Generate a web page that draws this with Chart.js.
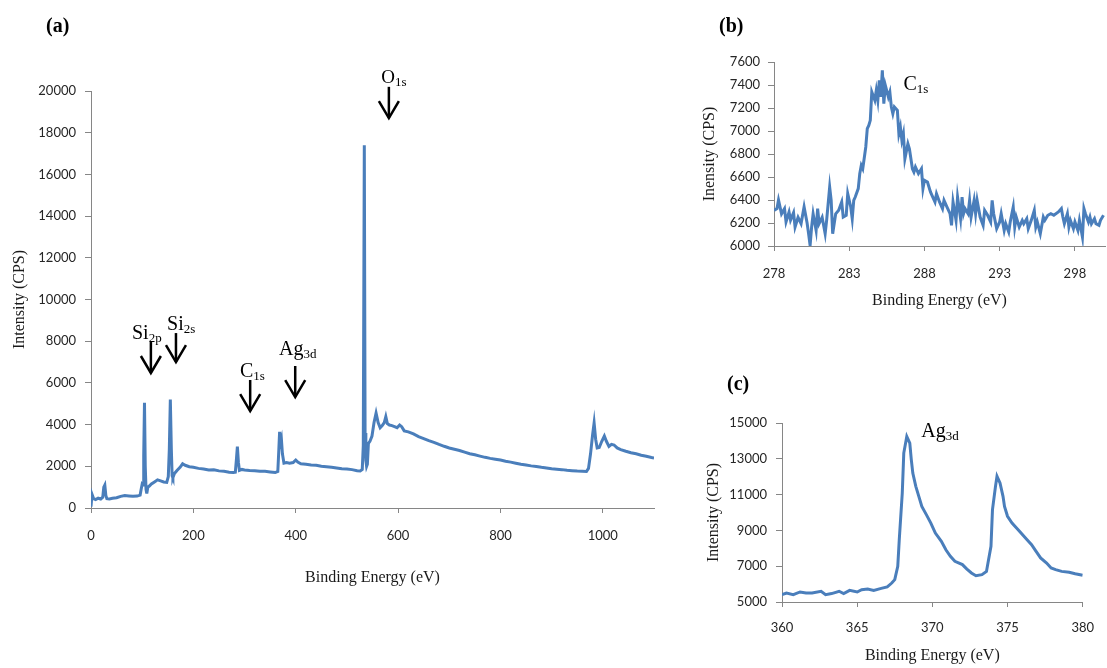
<!DOCTYPE html>
<html>
<head>
<meta charset="utf-8">
<script src="https://cdn.jsdelivr.net/npm/chart.js@4.4.0/dist/chart.umd.min.js"></script>
<style>
body { margin: 0; background: #fff; }
#wrap { position: relative; width: 1107px; height: 668px; overflow: hidden; }
canvas { position: absolute; }
.panel { position: absolute; font: bold 20px "Liberation Serif", serif; line-height: 20px; color: #000; }
</style>
</head>
<body>
<div id="wrap">
  <canvas id="chartA" width="680" height="600" style="left:0;top:0"></canvas>
  <canvas id="chartB" width="417" height="320" style="left:690px;top:0"></canvas>
  <canvas id="chartC" width="417" height="308" style="left:690px;top:360px"></canvas>
  <div class="panel" style="left:46px;top:15px">(a)</div>
  <div class="panel" style="left:719px;top:15px">(b)</div>
  <div class="panel" style="left:727px;top:373px">(c)</div>
</div>
<script>
// (a) survey spectrum
const surveyEnergy = [0, 2, 5, 9, 14, 19, 23, 25, 27, 29, 31, 36, 42, 50, 58, 66, 74, 82, 90, 96,
  98, 100, 102, 103, 104.5, 106, 107.5, 109, 111, 114, 118, 124, 130, 136, 142, 148, 151, 153, 155, 157,
  158.5, 160, 163, 168, 174, 179, 184, 192, 200, 210, 220, 230, 240, 250, 260, 270, 278, 282, 284, 286,
  288, 290, 295, 300, 310, 320, 330, 340, 350, 360, 365, 367, 368.5, 370, 372, 374, 377, 382, 388, 395,
  400, 404, 410, 420, 430, 440, 450, 460, 470, 480, 490, 500, 510, 520, 526, 530, 532, 534, 535.5, 537,
  538.5, 540, 542, 545, 549, 553, 557, 561, 565, 569, 573, 576, 579, 583, 588, 593, 598, 603, 607, 612,
  620, 630, 640, 650, 660, 670, 680, 690, 700, 710, 720, 730, 740, 750, 760, 770, 780, 790, 800, 810,
  820, 830, 840, 850, 860, 870, 880, 890, 900, 910, 920, 930, 940, 950, 960, 968, 972, 976, 980, 983,
  986, 989, 993, 998, 1003, 1007, 1012, 1017, 1022, 1028, 1035, 1045, 1055, 1065, 1075, 1085, 1095, 1100];
const surveyCounts = [60, 650, 450, 400, 470, 430, 520, 1000, 1100, 600, 450, 430, 470, 490, 560, 600, 580, 560, 570, 620,
  900, 1150, 1100, 2500, 5050, 2000, 900, 700, 1000, 1050, 1150, 1250, 1350, 1300, 1250, 1230, 1500, 2800, 5200, 2800,
  1550, 1450, 1650, 1800, 1950, 2120, 2050, 1980, 1950, 1900, 1870, 1820, 1830, 1780, 1760, 1720, 1700, 1720, 2300, 2950,
  2200, 1800, 1850, 1820, 1800, 1790, 1760, 1760, 1730, 1700, 1750, 2800, 3650, 3100, 3300, 2600, 2150, 2180, 2150, 2180,
  2300, 2200, 2120, 2100, 2060, 2050, 2000, 1980, 1950, 1920, 1880, 1870, 1840, 1790, 1780, 1850, 3000, 17400, 3600, 2300,
  2000, 2100, 3100, 3200, 3450, 4100, 4550, 4100, 3850, 3950, 4100, 4380, 4050, 3980, 3950, 3900, 3850, 3980, 3900, 3700,
  3650, 3550, 3420, 3330, 3230, 3150, 3050, 2960, 2880, 2820, 2760, 2680, 2600, 2550, 2490, 2430, 2380, 2340, 2300, 2240,
  2200, 2150, 2100, 2060, 2020, 1990, 1950, 1920, 1880, 1860, 1840, 1810, 1790, 1770, 1760, 1750, 1900, 2600, 3500, 4080,
  3300, 2880, 2900, 3200, 3450, 3200, 2950, 3050, 3020, 2880, 2800, 2720, 2650, 2600, 2530, 2480, 2420, 2400];
const surveyXTicks = [0, 200, 400, 600, 800, 1000];
const surveyYTicks = [0, 2000, 4000, 6000, 8000, 10000, 12000, 14000, 16000, 18000, 20000];

// (b) C1s region
const c1sEnergy = [278.0, 278.2, 278.3, 278.5, 278.7, 278.8, 279.0, 279.1, 279.3, 279.4, 279.6, 279.8, 280.0, 280.2, 280.3, 280.4,
  280.5, 280.6, 280.8, 280.9, 281.0, 281.2, 281.4, 281.5, 281.7, 281.8, 281.9, 282.1, 282.3, 282.5, 282.6, 282.8,
  282.9, 283.1, 283.2, 283.3, 283.4, 283.6, 283.7, 283.8, 283.9, 284.1, 284.2, 284.3, 284.4, 284.5, 284.7, 284.8,
  284.9, 285.0, 285.1, 285.2, 285.3, 285.4, 285.6, 285.7, 285.8, 285.9, 286.0, 286.2, 286.3, 286.4, 286.5, 286.6,
  286.7, 286.9, 287.0, 287.2, 287.3, 287.4, 287.6, 287.8, 287.9, 288.0, 288.2, 288.4, 288.5, 288.7, 288.8, 289.0,
  289.2, 289.3, 289.5, 289.7, 289.8, 289.9, 290.1, 290.2, 290.4, 290.5, 290.6, 290.7, 290.9, 291.0, 291.1, 291.3,
  291.4, 291.5, 291.7, 291.9, 292.0, 292.2, 292.4, 292.5, 292.6, 292.8, 293.0, 293.1, 293.3, 293.4, 293.6, 293.7,
  293.9, 294.0, 294.1, 294.3, 294.5, 294.6, 294.8, 294.9, 295.1, 295.3, 295.4, 295.5, 295.7, 295.9, 296.0, 296.2,
  296.4, 296.6, 296.9, 297.1, 297.2, 297.3, 297.5, 297.6, 297.7, 297.9, 298.0, 298.2, 298.3, 298.5, 298.6, 298.7,
  298.9, 299.0, 299.1, 299.3, 299.4, 299.6, 299.7, 299.9];
const c1sCounts = [6310, 6325, 6400, 6280, 6325, 6210, 6295, 6225, 6290, 6165, 6250, 6195, 6340, 6200, 6107, 6005,
  6165, 6280, 6135, 6325, 6195, 6250, 6107, 6225, 6513, 6397, 6107, 6280, 6310, 6383, 6252, 6267,
  6455, 6339, 6238, 6397, 6426, 6499, 6629, 6701, 6672, 6861, 7020, 7049, 7093, 7339, 7267, 7354,
  7267, 7441, 7296, 7528, 7238, 7397, 7296, 7339, 7209, 7151, 7209, 7180, 6977, 7035, 6919, 6977,
  6759, 6890, 6846, 6672, 6643, 6687, 6629, 6672, 6499, 6571, 6557, 6470, 6441, 6383, 6455, 6383,
  6325, 6397, 6339, 6281, 6180, 6383, 6223, 6426, 6238, 6426, 6281, 6325, 6281, 6397, 6252, 6397,
  6281, 6397, 6252, 6180, 6310, 6267, 6209, 6397, 6281, 6151, 6209, 6281, 6136, 6194, 6122, 6209,
  6339, 6165, 6252, 6165, 6223, 6194, 6238, 6151, 6223, 6310, 6165, 6209, 6107, 6252, 6223, 6267,
  6281, 6267, 6296, 6325, 6252, 6194, 6281, 6165, 6223, 6151, 6209, 6136, 6223, 6078, 6325, 6281,
  6209, 6252, 6194, 6238, 6194, 6180, 6223, 6267];
const c1sXTicks = [278, 283, 288, 293, 298];
const c1sYTicks = [6000, 6200, 6400, 6600, 6800, 7000, 7200, 7400, 7600];

// (c) Ag3d region
const agEnergy = [360.0, 360.3, 360.75, 361.2, 361.6, 362.0, 362.6, 362.9, 363.3, 363.8, 364.1, 364.5, 365.0, 365.3, 365.7, 366.1,
  366.6, 367.0, 367.3, 367.5, 367.7, 367.8, 368.0, 368.1, 368.3, 368.5, 368.6, 368.7, 368.9, 369.1, 369.3, 369.6,
  369.9, 370.2, 370.6, 370.9, 371.2, 371.5, 372.0, 372.3, 372.6, 372.9, 373.3, 373.6, 373.7, 373.9, 374.0, 374.2,
  374.3, 374.5, 374.7, 374.8, 375.0, 375.3, 375.6, 375.9, 376.3, 376.6, 376.9, 377.2, 377.6, 377.9, 378.2, 378.6,
  379.1, 379.5, 380.0];
const agCounts = [5410, 5500, 5410, 5560, 5500, 5500, 5600, 5410, 5470, 5600, 5470, 5650, 5560, 5690, 5730, 5650,
  5760, 5840, 6060, 6250, 6990, 8480, 11090, 13320, 14250, 13880, 12950, 12200, 11460, 10900, 10340, 9880,
  9410, 8850, 8390, 7920, 7550, 7270, 7090, 6840, 6620, 6470, 6530, 6710, 7180, 8110, 10160, 11460,
  12020, 11650, 10900, 10340, 9790, 9410, 9130, 8850, 8480, 8200, 7830, 7460, 7180, 6900, 6810, 6710,
  6660, 6580, 6490];
const agXTicks = [360, 365, 370, 375, 380];
const agYTicks = [5000, 7000, 9000, 11000, 13000, 15000];

const lineColor = '#4a7ebb';
const axisColor = '#868686';
const tickFont = { family: 'Lato', size: 13 };
const tickColor = '#262626';
const titleFont = { family: 'Liberation Serif', size: 16 };

// peak labels with subscripts and down arrows, placed in data units
const peakLabels = {
  id: 'peakLabels',
  afterDatasetsDraw(chart, args, opts) {
    const { ctx } = chart;
    const x = chart.scales.x, y = chart.scales.y;
    ctx.save();
    ctx.fillStyle = '#000';
    ctx.strokeStyle = '#000';
    ctx.textAlign = 'left';
    ctx.textBaseline = 'alphabetic';
    (opts.items || []).forEach(a => {
      const tx = x.getPixelForValue(a.textX);
      const ty = y.getPixelForValue(a.textY);
      ctx.font = a.size + 'px "Liberation Serif"';
      ctx.fillText(a.main, tx, ty);
      const w = ctx.measureText(a.main).width;
      ctx.font = a.subSize + 'px "Liberation Serif"';
      ctx.fillText(a.sub, tx + w, ty + 3);
      if (a.arrowX !== undefined) {
        const ax = x.getPixelForValue(a.arrowX);
        const y0 = y.getPixelForValue(a.arrowTop);
        const y1 = y.getPixelForValue(a.arrowBottom);
        ctx.lineWidth = 2.5;
        ctx.beginPath();
        ctx.moveTo(ax, y0);
        ctx.lineTo(ax, y1);
        ctx.stroke();
        ctx.beginPath();
        ctx.moveTo(ax - 10, y1 - 17);
        ctx.lineTo(ax, y1);
        ctx.lineTo(ax + 10, y1 - 17);
        ctx.stroke();
      }
    });
    ctx.restore();
  }
};

function toPoints(xs, ys) {
  return xs.map((v, i) => ({ x: v, y: ys[i] }));
}

function makeChart(id, cfg) {
  return new Chart(document.getElementById(id), {
    type: 'line',
    data: {
      datasets: [{
        data: toPoints(cfg.xs, cfg.ys),
        borderColor: lineColor,
        borderWidth: 3,
        pointRadius: 0,
        tension: 0,
        fill: false
      }]
    },
    options: {
      responsive: false,
      animation: false,
      devicePixelRatio: 1,
      layout: { padding: cfg.padding },
      scales: {
        x: {
          type: 'linear',
          min: cfg.xMin,
          max: cfg.xMax,
          afterBuildTicks: s => { s.ticks = cfg.xTicks.map(v => ({ value: v })); },
          afterFit: s => { s.height = cfg.xHeight; },
          border: { color: axisColor, width: 1 },
          grid: { drawOnChartArea: false, drawTicks: true, tickLength: 5, color: axisColor },
          ticks: { font: tickFont, color: tickColor, padding: cfg.xTickPad, maxRotation: 0, callback: v => String(v) },
          title: { display: true, text: 'Binding Energy (eV)', font: titleFont, color: '#1a1a1a', padding: { top: 0, bottom: cfg.xTitlePad } }
        },
        y: {
          min: cfg.yMin,
          max: cfg.yMax,
          afterBuildTicks: s => { s.ticks = cfg.yTicks.map(v => ({ value: v })); },
          afterFit: s => { s.width = cfg.yWidth; },
          border: { color: axisColor, width: 1 },
          grid: { drawOnChartArea: false, drawTicks: true, tickLength: 6, color: axisColor },
          ticks: { font: tickFont, color: tickColor, padding: cfg.yTickPad, callback: v => String(v) },
          title: { display: true, text: cfg.yTitle, font: titleFont, color: '#1a1a1a', padding: { top: cfg.yTitlePad, bottom: 0 } }
        }
      },
      plugins: {
        legend: { display: false },
        tooltip: { enabled: false },
        peakLabels: { items: cfg.labels }
      }
    },
    plugins: [peakLabels]
  });
}

makeChart('chartA', {
  xs: surveyEnergy, ys: surveyCounts, xTicks: surveyXTicks, yTicks: surveyYTicks,
  xMin: 0, xMax: 1100, yMin: 0, yMax: 20000,
  padding: { top: 91, right: 26, left: 0, bottom: 0 },
  xHeight: 92, yWidth: 91, xTickPad: 15, yTickPad: 9, xTitlePad: 13, yTitlePad: 10,
  yTitle: 'Intensity (CPS)',
  labels: [
    { main: 'O', sub: '1s', textX: 567, textY: 20380, size: 19, subSize: 13, arrowX: 582, arrowTop: 20200, arrowBottom: 18700 },
    { main: 'Si', sub: '2p', textX: 80, textY: 8105, size: 20, subSize: 13, arrowX: 117, arrowTop: 7960, arrowBottom: 6475 },
    { main: 'Si', sub: '2s', textX: 148.6, textY: 8540, size: 20, subSize: 13, arrowX: 166, arrowTop: 8390, arrowBottom: 7000 },
    { main: 'C', sub: '1s', textX: 291, textY: 6280, size: 20, subSize: 13, arrowX: 311, arrowTop: 6140, arrowBottom: 4650 },
    { main: 'Ag', sub: '3d', textX: 367.5, textY: 7340, size: 20, subSize: 13, arrowX: 399, arrowTop: 6810, arrowBottom: 5320 }
  ]
});

makeChart('chartB', {
  xs: c1sEnergy, ys: c1sCounts, xTicks: c1sXTicks, yTicks: c1sYTicks,
  xMin: 278, xMax: 300, yMin: 6000, yMax: 7600,
  padding: { top: 62, right: 2, left: 0, bottom: 0 },
  xHeight: 74, yWidth: 84, xTickPad: 15, yTickPad: 8, xTitlePad: 10, yTitlePad: 10,
  yTitle: 'Inensity (CPS)',
  labels: [
    { main: 'C', sub: '1s', textX: 286.6, textY: 7357, size: 20, subSize: 13 }
  ]
});

makeChart('chartC', {
  xs: agEnergy, ys: agCounts, xTicks: agXTicks, yTicks: agYTicks,
  xMin: 360, xMax: 380, yMin: 5000, yMax: 15000,
  padding: { top: 63, right: 16, left: 0, bottom: 0 },
  xHeight: 66, yWidth: 92, xTickPad: 13, yTickPad: 9, xTitlePad: 3, yTitlePad: 14,
  yTitle: 'Intensity (CPS)',
  labels: [
    { main: 'Ag', sub: '3d', textX: 369.26, textY: 14218, size: 20, subSize: 13 }
  ]
});
</script>
</body>
</html>
